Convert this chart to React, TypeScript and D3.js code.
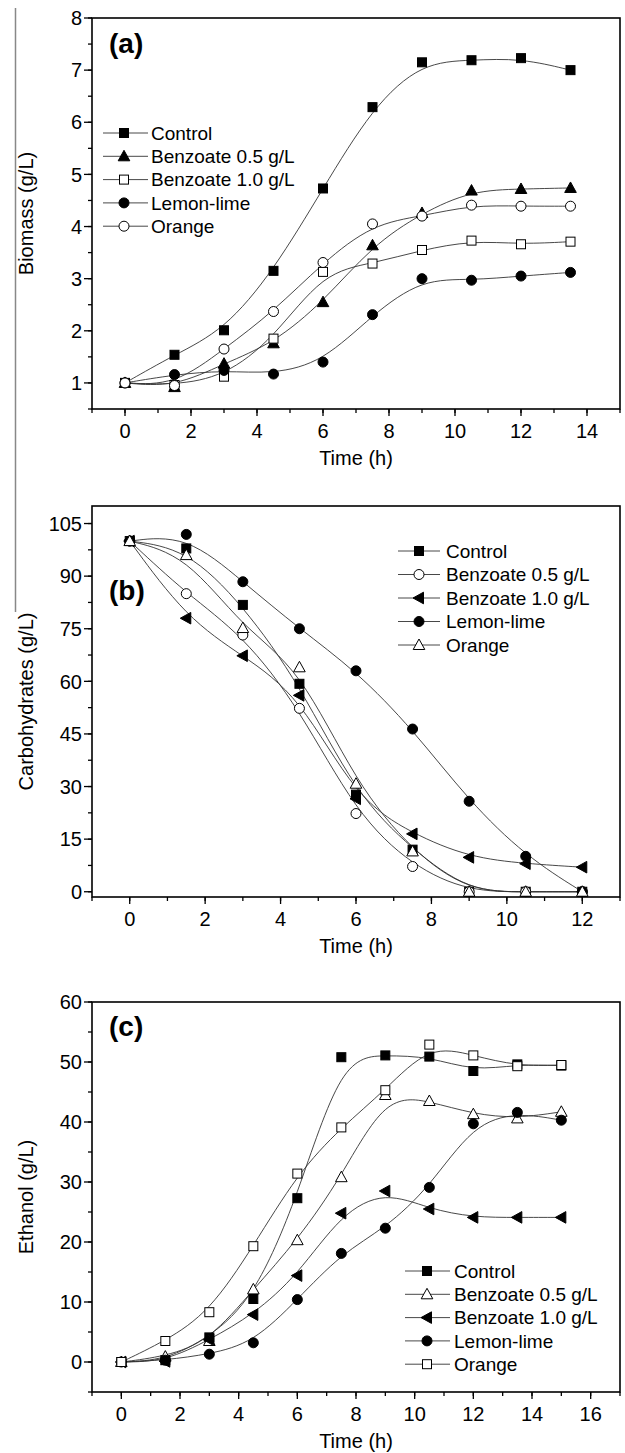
import React from "react";
import * as d3 from "d3";

const seriesNames = ["Control", "Benzoate 0.5 g/L", "Benzoate 1.0 g/L", "Lemon-lime", "Orange"];

// Panel (a) Biomass
const timeA = [0, 1.5, 3, 4.5, 6, 7.5, 9, 10.5, 12, 13.5];
const biomassControl = [1.0, 1.54, 2.01, 3.15, 4.73, 6.29, 7.15, 7.19, 7.23, 7.0];
const biomassBenz05 = [1.0, 0.92, 1.37, 1.76, 2.55, 3.64, 4.26, 4.69, 4.72, 4.74];
const biomassBenz10 = [1.0, 0.96, 1.12, 1.85, 3.13, 3.29, 3.55, 3.73, 3.66, 3.71];
const biomassLemon = [1.0, 1.16, 1.24, 1.17, 1.4, 2.31, 3.0, 2.97, 3.05, 3.12];
const biomassOrange = [1.0, 0.95, 1.65, 2.37, 3.31, 4.05, 4.2, 4.41, 4.39, 4.39];
const xTicksA = [0, 2, 4, 6, 8, 10, 12, 14];
const yTicksA = [1, 2, 3, 4, 5, 6, 7, 8];

// Panel (b) Carbohydrates
const timeB = [0, 1.5, 3, 4.5, 6, 7.5, 9, 10.5, 12];
const carbControl = [100, 97.9, 81.8, 59.3, 27.7, 12.0, 0, 0, 0];
const carbBenz05 = [100, 85.0, 73.2, 52.3, 22.3, 7.2, 0, 0, 0];
const carbBenz10 = [100, 78.0, 67.3, 56.0, 26.5, 16.5, 9.8, 8.0, 7.0];
const carbLemon = [100, 101.9, 88.4, 75.0, 63.0, 46.4, 25.8, 10.1, 0];
const carbOrange = [100, 96.0, 75.2, 64.0, 30.8, 11.5, 0, 0, 0];
const xTicksB = [0, 2, 4, 6, 8, 10, 12];
const yTicksB = [0, 15, 30, 45, 60, 75, 90, 105];

// Panel (c) Ethanol
const timeC = [0, 1.5, 3, 4.5, 6, 7.5, 9, 10.5, 12, 13.5, 15];
const ethControl = [0, 0.3, 4.1, 10.5, 27.3, 50.8, 51.1, 50.9, 48.5, 49.6, 49.4];
const ethBenz05 = [0, 0.9, 3.5, 12.1, 20.3, 30.8, 44.5, 43.5, 41.3, 40.6, 41.7];
const ethBenz10 = [0, 0.1, 3.7, 7.9, 14.4, 24.8, 28.5, 25.5, 24.1, 24.1, 24.1];
const ethLemon = [0, 0.3, 1.3, 3.2, 10.4, 18.1, 22.3, 29.1, 39.7, 41.6, 40.3];
const ethOrange = [0, 3.5, 8.3, 19.3, 31.4, 39.1, 45.3, 52.9, 51.1, 49.3, 49.5];
const xTicksC = [0, 2, 4, 6, 8, 10, 12, 14, 16];
const yTicksC = [0, 10, 20, 30, 40, 50, 60];

type Shape = "square" | "circle" | "triUp" | "triLeft";
type Sym = { shape: Shape; filled: boolean };

const symbolsA: Sym[] = [
  { shape: "square", filled: true },
  { shape: "triUp", filled: true },
  { shape: "square", filled: false },
  { shape: "circle", filled: true },
  { shape: "circle", filled: false },
];
const symbolsB: Sym[] = [
  { shape: "square", filled: true },
  { shape: "circle", filled: false },
  { shape: "triLeft", filled: true },
  { shape: "circle", filled: true },
  { shape: "triUp", filled: false },
];
const symbolsC: Sym[] = [
  { shape: "square", filled: true },
  { shape: "triUp", filled: false },
  { shape: "triLeft", filled: true },
  { shape: "circle", filled: true },
  { shape: "square", filled: false },
];

const FONT = "'Liberation Sans', Arial, sans-serif";

function Marker({ x, y, sym }: { x: number; y: number; sym: Sym }) {
  const fill = sym.filled ? "#000" : "#fff";
  const stroke = "#000";
  const sw = 1;
  if (sym.shape === "square") {
    return <rect x={x - 4.5} y={y - 4.5} width={9} height={9} fill={fill} stroke={stroke} strokeWidth={sw} />;
  }
  if (sym.shape === "circle") {
    return <circle cx={x} cy={y} r={5} fill={fill} stroke={stroke} strokeWidth={sw} />;
  }
  if (sym.shape === "triUp") {
    const p = `${x},${y - 6} ${x + 5.8},${y + 4.5} ${x - 5.8},${y + 4.5}`;
    return <polygon points={p} fill={fill} stroke={stroke} strokeWidth={sw} />;
  }
  const p = `${x - 6},${y} ${x + 4.5},${y - 5.8} ${x + 4.5},${y + 5.8}`;
  return <polygon points={p} fill={fill} stroke={stroke} strokeWidth={sw} />;
}

type PanelProps = {
  label: string;
  yTitle: string;
  time: number[];
  series: number[][];
  symbols: Sym[];
  xDomain: [number, number];
  yDomain: [number, number];
  yRange: [number, number];
  xTicks: number[];
  yTicks: number[];
  xMinorStep: number;
  yMinorStep: number;
  labelPos: [number, number];
  legend: { lineX0: number; lineX1: number; markX: number; textX: number; y0: number; dy: number };
};

function Panel(p: PanelProps) {
  const x = d3.scaleLinear().domain(p.xDomain).range([92, 620]);
  const y = d3.scaleLinear().domain(p.yDomain).range(p.yRange);
  const [x0, x1] = x.range();
  const [yb, yt] = p.yRange;
  const line = d3
    .line<[number, number]>()
    .x((d) => x(d[0]))
    .y((d) => y(d[1]))
    .curve(d3.curveBasis);
  const xMinor = d3.range(p.xDomain[0], p.xDomain[1] + 1e-9, p.xMinorStep);
  const yMinor = d3.range(
    Math.ceil(p.yDomain[0] / p.yMinorStep) * p.yMinorStep,
    p.yDomain[1] + 1e-9,
    p.yMinorStep
  );
  const midX = (x0 + x1) / 2;
  const midY = (yb + yt) / 2;
  return (
    <g>
      {/* curves */}
      {p.series.map((s, i) => (
        <path
          key={"l" + i}
          d={line(p.time.map((t, j) => [t, s[j]] as [number, number])) || ""}
          fill="none"
          stroke="#333"
          strokeWidth={0.9}
        />
      ))}
      {/* markers */}
      {p.series.map((s, i) =>
        p.time.map((t, j) => <Marker key={`m${i}-${j}`} x={x(t)} y={y(s[j])} sym={p.symbols[i]} />)
      )}
      {/* frame */}
      <rect x={x0} y={yt} width={x1 - x0} height={yb - yt} fill="none" stroke="#000" strokeWidth={1.6} />
      {/* x ticks */}
      {xMinor.map((v, i) => (
        <line key={"xm" + i} x1={x(v)} x2={x(v)} y1={yb} y2={yb + 4} stroke="#000" strokeWidth={1.3} />
      ))}
      {p.xTicks.map((v, i) => (
        <g key={"xt" + i}>
          <line x1={x(v)} x2={x(v)} y1={yb} y2={yb + 7} stroke="#000" strokeWidth={1.3} />
          <text x={x(v)} y={yb + 29} textAnchor="middle" fontSize={20} fontFamily={FONT}>
            {v}
          </text>
        </g>
      ))}
      {/* y ticks */}
      {yMinor.map((v, i) => (
        <line key={"ym" + i} x1={x0 - 4} x2={x0} y1={y(v)} y2={y(v)} stroke="#000" strokeWidth={1.3} />
      ))}
      {p.yTicks.map((v, i) => (
        <g key={"yt" + i}>
          <line x1={x0 - 8} x2={x0} y1={y(v)} y2={y(v)} stroke="#000" strokeWidth={1.3} />
          <text x={x0 - 10} y={y(v)} dy="0.36em" textAnchor="end" fontSize={20} fontFamily={FONT}>
            {v}
          </text>
        </g>
      ))}
      {/* axis titles */}
      <text x={midX} y={yb + 56} textAnchor="middle" fontSize={20} fontFamily={FONT}>
        Time (h)
      </text>
      <text
        transform={`translate(26,${midY}) rotate(-90)`}
        textAnchor="middle"
        dy="0.36em"
        fontSize={20}
        fontFamily={FONT}
      >
        {p.yTitle}
      </text>
      {/* panel label */}
      <text x={p.labelPos[0]} y={p.labelPos[1]} fontSize={28} fontWeight="bold" fontFamily={FONT}>
        {p.label}
      </text>
      {/* legend */}
      {seriesNames.map((name, i) => {
        const ly = p.legend.y0 + i * p.legend.dy;
        return (
          <g key={"lg" + i}>
            <line x1={p.legend.lineX0} x2={p.legend.lineX1} y1={ly} y2={ly} stroke="#333" strokeWidth={0.9} />
            <Marker x={p.legend.markX} y={ly} sym={p.symbols[i]} />
            <text x={p.legend.textX} y={ly} dy="0.36em" fontSize={19} fontFamily={FONT}>
              {name}
            </text>
          </g>
        );
      })}
    </g>
  );
}

export default function App() {
  return (
    <svg
      width={625}
      height={1453}
      style={{ position: "absolute", left: 0, top: 0, background: "#fff" }}
    >
      <rect x={0} y={0} width={625} height={1453} fill="#fff" />
      <line x1={15.5} x2={15.5} y1={8} y2={612} stroke="#888" strokeWidth={1.5} />
      <Panel
        label="(a)"
        yTitle="Biomass (g/L)"
        time={timeA}
        series={[biomassControl, biomassBenz05, biomassBenz10, biomassLemon, biomassOrange]}
        symbols={symbolsA}
        xDomain={[-1, 15]}
        yDomain={[0.5, 8]}
        yRange={[409, 18]}
        xTicks={xTicksA}
        yTicks={yTicksA}
        xMinorStep={1}
        yMinorStep={0.5}
        labelPos={[109, 53]}
        legend={{ lineX0: 103, lineX1: 148, markX: 124, textX: 151, y0: 133, dy: 23.3 }}
      />
      <Panel
        label="(b)"
        yTitle="Carbohydrates (g/L)"
        time={timeB}
        series={[carbControl, carbBenz05, carbBenz10, carbLemon, carbOrange]}
        symbols={symbolsB}
        xDomain={[-1, 13]}
        yDomain={[-1.5, 110]}
        yRange={[897, 506]}
        xTicks={xTicksB}
        yTicks={yTicksB}
        xMinorStep={1}
        yMinorStep={7.5}
        labelPos={[109, 600]}
        legend={{ lineX0: 398, lineX1: 440, markX: 419, textX: 446, y0: 551, dy: 23.5 }}
      />
      <Panel
        label="(c)"
        yTitle="Ethanol (g/L)"
        time={timeC}
        series={[ethControl, ethBenz05, ethBenz10, ethLemon, ethOrange]}
        symbols={symbolsC}
        xDomain={[-1, 17]}
        yDomain={[-5, 60]}
        yRange={[1392, 1002]}
        xTicks={xTicksC}
        yTicks={yTicksC}
        xMinorStep={1}
        yMinorStep={5}
        labelPos={[109, 1036]}
        legend={{ lineX0: 405, lineX1: 450, markX: 427, textX: 454, y0: 1271, dy: 23.3 }}
      />
    </svg>
  );
}
